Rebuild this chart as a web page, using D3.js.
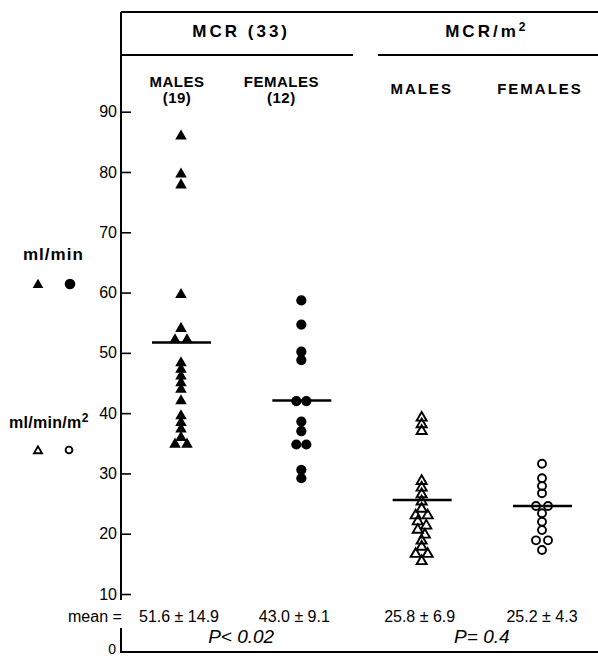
<!DOCTYPE html>
<html><head><meta charset="utf-8">
<script src="https://cdn.jsdelivr.net/npm/d3@7"></script>
<style>body{margin:0;background:#fff} svg{display:block}</style>
</head><body>
<svg id="c" width="598" height="658"></svg>
<script>
// ---- data ----
const groups = ["mcrMales", "mcrFemales", "m2Males", "m2Females"];
const mcrMales = [86.1, 79.8, 78.0, 59.8, 54.2, 52.3, 52.3, 48.5, 47.4, 46.3, 45.2, 44.1, 42.2, 39.7, 38.6, 37.5, 36.1, 35.0, 35.0];
const mcrFemales = [58.7, 54.7, 50.2, 48.8, 42.0, 42.0, 38.6, 37.0, 34.8, 34.8, 30.6, 29.2];
const m2Males = [39.4, 38.3, 37.2, 28.9, 27.8, 26.7, 25.5, 24.3, 23.2, 23.2, 22.2, 21.5, 20.8, 20.0, 19.0, 18.0, 16.8, 16.8, 15.6];
const m2Females = [31.6, 29.2, 27.9, 26.7, 24.6, 24.6, 23.4, 22.0, 20.6, 18.9, 18.9, 17.3];
const meanLines = [51.7, 42.1, 25.6, 24.6];
const meanLabels = ["51.6 ± 14.9", "43.0 ± 9.1", "25.8 ± 6.9", "25.2 ± 4.3"];
const yTicks = [10, 20, 30, 40, 50, 60, 70, 80, 90];
const pLabels = ["P< 0.02", "P= 0.4"];
const headers = ["MCR (33)", "MCR/m"];
const subHeaders = [["MALES", "(19)"], ["FEMALES", "(12)"], ["MALES"], ["FEMALES"]];

const values = [mcrMales, mcrFemales, m2Males, m2Females];
const svg = d3.select("#c");
const x = d3.scalePoint().domain(groups).range([181, 542]);
const y = d3.scaleLinear().domain([0, 90]).range([654.3, 111.7]);
const BOLD = "'Liberation Sans', Arial, sans-serif";

// ---- frame ----
const axX = 121;
const fr = svg.append("g").attr("stroke", "#000").attr("fill", "none");
fr.append("line").attr("x1", axX).attr("x2", 598).attr("y1", 12).attr("y2", 12).attr("stroke-width", 2);
fr.append("line").attr("x1", axX).attr("x2", axX).attr("y1", 12).attr("y2", 600).attr("stroke-width", 2);
fr.append("line").attr("x1", axX).attr("x2", axX).attr("y1", 628).attr("y2", 653).attr("stroke-width", 2);
fr.append("line").attr("x1", axX - 1).attr("x2", 598).attr("y1", 652).attr("y2", 652).attr("stroke-width", 2);
fr.append("line").attr("x1", axX).attr("x2", 353).attr("y1", 55).attr("y2", 55).attr("stroke-width", 1.8);
fr.append("line").attr("x1", 378).attr("x2", 598).attr("y1", 55).attr("y2", 55).attr("stroke-width", 1.8);

// ---- headers ----
const hx = [(x(groups[0]) + x(groups[1])) / 2, (x(groups[2]) + x(groups[3])) / 2 + 5];
svg.append("text").attr("x", hx[0]).attr("y", 37).attr("text-anchor", "middle")
  .style("font", `bold 17px ${BOLD}`).style("letter-spacing", "3px").text(headers[0]);
const h2 = svg.append("text").attr("x", hx[1]).attr("y", 37).attr("text-anchor", "middle")
  .style("font", `bold 17px ${BOLD}`).style("letter-spacing", "3px");
h2.append("tspan").text(headers[1]);
h2.append("tspan").attr("dy", -6).style("font-size", "12px").text("2");

const subOff = [-4, -20, 0, -2];
const subY = [[87, 103], [87, 103], [94], [94]];
subHeaders.forEach((lines, i) => {
  lines.forEach((t, j) => {
    svg.append("text").attr("x", x(groups[i]) + subOff[i]).attr("y", subY[i][j])
      .attr("text-anchor", "middle")
      .style("font", `bold 15px ${BOLD}`).style("letter-spacing", i >= 2 ? "2px" : "0.5px").text(t);
  });
});

// ---- y axis ----
const axis = d3.axisLeft(y).tickValues(yTicks).tickSize(-10).tickPadding(4).tickFormat(d3.format("d"));
const ag = svg.append("g").attr("transform", `translate(${axX},0)`).call(axis);
ag.select(".domain").remove();
ag.selectAll(".tick line").attr("stroke", "#000").attr("stroke-width", 1.6);
ag.selectAll(".tick text").style("font", `16px ${BOLD}`).attr("fill", "#000");
svg.append("text").attr("x", axX - 5).attr("y", 654).attr("text-anchor", "end")
  .style("font", `14px ${BOLD}`).text("0");

// ---- legend ----
svg.append("text").attr("x", 23).attr("y", 260).style("font", `bold 17px ${BOLD}`).style("letter-spacing", "1px").text("ml/min");
const lg = svg.append("text").attr("x", 9).attr("y", 428).style("font", `bold 16px ${BOLD}`).style("letter-spacing", "0.3px");
lg.append("tspan").text("ml/min/m");
lg.append("tspan").attr("dy", -6).style("font-size", "12px").text("2");
svg.append("path").attr("transform", "translate(38,285)").attr("d", d3.symbol(d3.symbolTriangle, 50)()).attr("fill", "#000");
svg.append("circle").attr("cx", 70).attr("cy", 284).attr("r", 5.3).attr("fill", "#000");
svg.append("path").attr("transform", "translate(38,451)").attr("d", d3.symbol(d3.symbolTriangle, 28)())
  .attr("fill", "none").attr("stroke", "#000").attr("stroke-width", 1.9);
svg.append("circle").attr("cx", 69).attr("cy", 450).attr("r", 3.4).attr("fill", "none").attr("stroke", "#000").attr("stroke-width", 1.9);

// ---- mean lines ----
svg.append("g").selectAll("line").data(meanLines).join("line")
  .attr("x1", (d, i) => x(groups[i]) - 29).attr("x2", (d, i) => x(groups[i]) + 30)
  .attr("y1", d => y(d)).attr("y2", d => y(d))
  .attr("stroke", "#000").attr("stroke-width", 2.5);

// ---- beeswarm points ----
const K = 2;
values.forEach((vals, gi) => {
  const cx = x(groups[gi]);
  const nodes = vals.map(v => ({ v, x: cx, y: y(v) * K, fy: y(v) * K }));
  const sim = d3.forceSimulation(nodes)
    .force("x", d3.forceX(cx).strength(0.06))
    .force("c", d3.forceCollide(gi === 1 ? 5 : 6).iterations(3))
    .stop();
  sim.tick(300);
  const g = svg.append("g");
  const filled = gi < 2;
  const isTri = gi % 2 === 0;
  const sel = g.selectAll("path").data(nodes).join("path")
    .attr("transform", d => `translate(${d.x},${d.fy / K + (isTri ? 1 : 0)})`)
    .attr("d", isTri ? d3.symbol(d3.symbolTriangle, filled ? 58 : 44)() : d3.symbol(d3.symbolCircle, filled ? 82 : 50)());
  if (filled) sel.attr("fill", "#000");
  else sel.attr("fill", "none").attr("stroke", "#000").attr("stroke-width", 1.9);
});

// ---- mean labels & p ----
svg.append("text").attr("x", 68).attr("y", 622).style("font", `16px ${BOLD}`).text("mean =");
const mOff = [-2, -7, -2, 0];
svg.append("g").selectAll("text").data(meanLabels).join("text")
  .attr("x", (d, i) => x(groups[i]) + mOff[i]).attr("y", 622).attr("text-anchor", "middle")
  .style("font", `16px ${BOLD}`).text(d => d);
svg.append("g").selectAll("text").data(pLabels).join("text")
  .attr("x", (d, i) => (x(groups[2 * i]) + x(groups[2 * i + 1])) / 2)
  .attr("y", 643).attr("text-anchor", "middle")
  .style("font", `italic 19px ${BOLD}`).text(d => d);
</script>
</body></html>
